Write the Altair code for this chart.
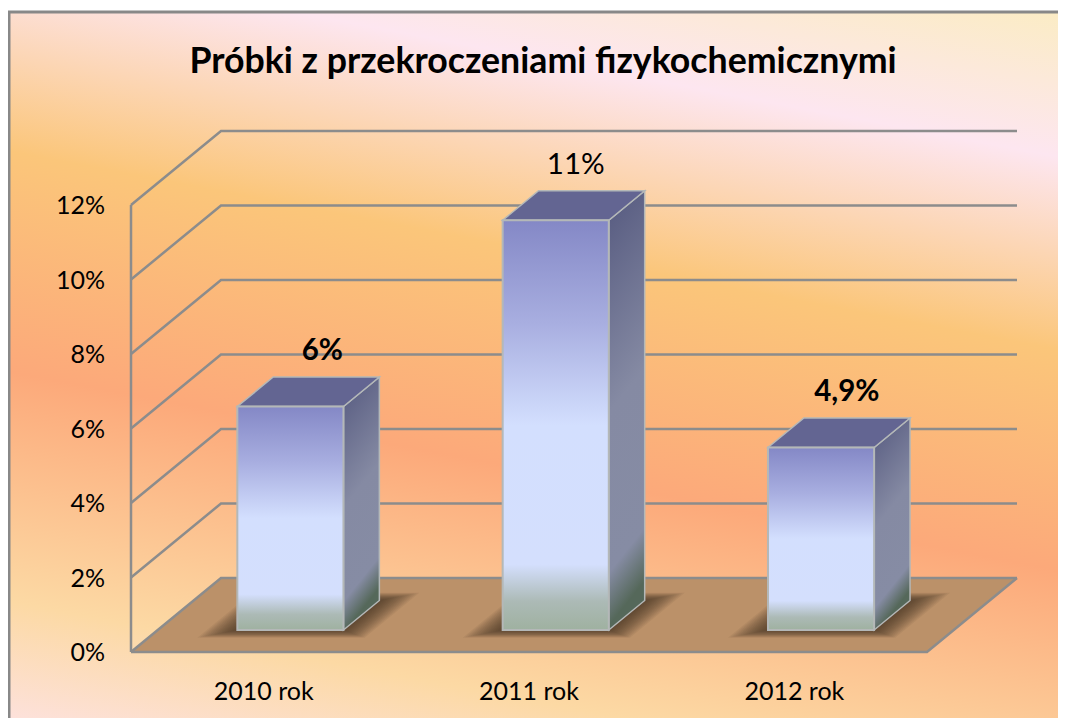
import altair as alt
import pandas as pd

title_text = "Próbki z przekroczeniami fizykochemicznymi"
categories = ["2010 rok", "2011 rok", "2012 rok"]
values = [6.0, 11.0, 4.9]
value_labels = ["6%", "11%", "4,9%"]
ticks = [0, 2, 4, 6, 8, 10, 12]
tick_labels = ["0%", "2%", "4%", "6%", "8%", "10%", "12%"]

# Chart geometry: x unit = one category cell, y unit = one percent
W, H = 1050, 710
PX_CELL, PX_PCT = 265.33, 37.25
X0, Y0 = 123, 644            # chart pixel position of the plot origin
DX, DY = 90 / PX_CELL, 74 / PX_PCT   # shift of the depth axis
BAR_L, BAR_R = 0.3, 0.7
BAR_D0, BAR_D1 = 0.297, 0.696
LABEL_SHIFT = [0.015, 0.06, 0.038]
LABEL_LIFT = 0.69
SIDE_TILT_PX = 45

x_scale = alt.Scale(domain=[(0 - X0) / PX_CELL, (W - X0) / PX_CELL], range=[0, W], nice=False, zero=False)
y_scale = alt.Scale(domain=[(Y0 - H) / PX_PCT, Y0 / PX_PCT], range=[H, 0], nice=False, zero=False)


def X(f="x"):
    return alt.X(f, type="quantitative", scale=x_scale, axis=None)


def Y(f="y"):
    return alt.Y(f, type="quantitative", scale=y_scale, axis=None)


Y2 = alt.Y2("y2")
X2 = alt.X2("x2")


def footprint(u0, u1, d0, d1, v, group):
    """Horizontal parallelogram in the projected scene, as area rows."""
    pts = [
        (u0 + d0 * DX, v + d0 * DY, v + d0 * DY),
        (u0 + d1 * DX, v + d0 * DY, v + d1 * DY),
        (u1 + d0 * DX, v + d0 * DY, v + d1 * DY),
        (u1 + d1 * DX, v + d1 * DY, v + d1 * DY),
    ]
    return [{"x": a, "y": b, "y2": c, "g": group} for a, b, c in pts]


def grad(stops, x1, y1, x2, y2):
    return alt.Gradient(
        gradient="linear",
        stops=[alt.GradientStop(color=c, offset=o) for o, c in stops],
        x1=x1, y1=y1, x2=x2, y2=y2,
    )


# background and frame
bg_fill = grad(
    [(0, "#fbecc4"), (0.16, "#fde6f0"), (0.37, "#fbc67a"), (0.61, "#fca97a"), (0.86, "#fcd9a4"), (1, "#fde2e0")],
    1, 0, 0.668, 1.187,
)
background = alt.Chart(pd.DataFrame({"a": [0]})).mark_rect(
    fill=bg_fill, stroke="#888888", strokeWidth=3, clip=True
).encode(x=alt.value(1), x2=alt.value(W + 12), y=alt.value(4), y2=alt.value(H + 12))

# floor
floor = alt.Chart(pd.DataFrame(footprint(0, 3, 0, 1, 0, "floor"))).mark_area(fill="#bb9169").encode(
    x=X(), y=Y(), y2=Y2
)

# grid: left wall, side wall diagonals, back wall lines, floor edges
grid_rows = []
for t in ticks:
    grid_rows += [
        {"x": 0, "y": t, "g": f"g{t}", "o": 0},
        {"x": DX, "y": t + DY, "g": f"g{t}", "o": 1},
        {"x": 3 + DX, "y": t + DY, "g": f"g{t}", "o": 2},
    ]
grid_rows += [{"x": 0, "y": 0, "g": "wall", "o": 0}, {"x": 0, "y": ticks[-1], "g": "wall", "o": 1}]
grid_rows += [
    {"x": 0, "y": 0, "g": "front", "o": 0},
    {"x": 3, "y": 0, "g": "front", "o": 1},
    {"x": 3 + DX, "y": DY, "g": "front", "o": 2},
]
grid = alt.Chart(pd.DataFrame(grid_rows)).mark_line(color="#8c8c8c", strokeWidth=2.5).encode(
    x=X(), y=Y(), detail="g:N", order="o:Q"
)

# shadows
N_SHADOW = 16
shadow_rows = []
for i in range(len(categories)):
    for k in range(N_SHADOW):
        m = 1 - k / N_SHADOW
        shadow_rows += footprint(
            i + BAR_L - 0.115 * m, i + BAR_R + 0.115 * m,
            BAR_D0 - 0.105 * m, BAR_D1 + 0.105 * m, 0, f"s{i}-{k}",
        )
shadows = alt.Chart(pd.DataFrame(shadow_rows)).mark_area(fill="#3a2c1c", opacity=0.065).encode(
    x=X(), y=Y(), y2=Y2, detail="g:N"
)

# bars
front_rows, top_rows = [], []
EDGE = "#b4b8b8"
side_layers = []
for i, v in enumerate(values):
    front_rows.append({
        "x": i + BAR_L + BAR_D0 * DX, "x2": i + BAR_R + BAR_D0 * DX,
        "y": BAR_D0 * DY, "y2": v + BAR_D0 * DY, "cat": categories[i],
    })
    side_rows = [
        {"x": i + BAR_R + d * DX, "y": d * DY, "y2": v + d * DY}
        for d in (BAR_D0, BAR_D1)
    ]
    tilt = SIDE_TILT_PX / ((v + (BAR_D1 - BAR_D0) * DY) * PX_PCT)
    side_fill = grad(
        [(0, "#55597f"), (0.5, "#858aa3"), (0.86, "#868ca4"), (0.98, "#55685a")], 0, 0, tilt, 1
    )
    side_layers.append(
        alt.Chart(pd.DataFrame(side_rows)).mark_area(fill=side_fill, stroke=EDGE, strokeWidth=1.5).encode(
            x=X(), y=Y(), y2=Y2
        )
    )
    top_rows += footprint(i + BAR_L, i + BAR_R, BAR_D0, BAR_D1, v, categories[i])

sides = alt.layer(*side_layers)
tops = alt.Chart(pd.DataFrame(top_rows)).mark_area(fill="#636592", stroke=EDGE, strokeWidth=1.5).encode(
    x=X(), y=Y(), y2=Y2, detail="g:N"
)
front_fill = grad(
    [(0, "#8488c6"), (0.25, "#a8aee0"), (0.5, "#d3dffe"), (0.84, "#d4dffd"), (0.93, "#acbab6"), (1, "#9fb1a0")],
    0, 0, 0, 1,
)
fronts = alt.Chart(pd.DataFrame(front_rows)).mark_rect(fill=front_fill, stroke=EDGE, strokeWidth=2).encode(
    x=X(), x2=X2, y=Y(), y2=Y2
)

FONT = "Lato"
# text
value_df = pd.DataFrame({
    "x": [i + 0.5 + BAR_D1 * DX - LABEL_SHIFT[i] for i in range(3)],
    "y": [v + BAR_D1 * DY + LABEL_LIFT for v in values],
    "t": value_labels,
    "w": ["bold", "normal", "bold"],
})
value_text = alt.layer(*[
    alt.Chart(value_df[value_df.w == w]).mark_text(font=FONT, fontSize=29.5, fontWeight=w, color="#000000").encode(
        x=X(), y=Y(), text="t:N"
    )
    for w in ("bold", "normal")
])
tick_df = pd.DataFrame({"x": [-0.098] * len(ticks), "y": ticks, "t": tick_labels})
tick_text = alt.Chart(tick_df).mark_text(font=FONT, fontSize=25, align="right", color="#000000", dy=1).encode(
    x=X(), y=Y(), text="t:N"
)
cat_df = pd.DataFrame({"x": [i + 0.5 for i in range(3)], "y": [-1.08] * 3, "t": categories})
cat_text = alt.Chart(cat_df).mark_text(font=FONT, fontSize=25, color="#000000").encode(
    x=X(), y=Y(), text="t:N"
)
title_df = pd.DataFrame({"x": [1.553], "y": [15.84], "t": [title_text]})
title = alt.Chart(title_df).mark_text(font=FONT, fontSize=35.7, fontWeight="bold", color="#000000").encode(
    x=X(), y=Y(), text="t:N"
)

chart = alt.layer(
    background, floor, grid, shadows, sides, tops, fronts, value_text, tick_text, cat_text, title
).properties(width=W, height=H, padding=0, autosize=alt.AutoSizeParams(type="none")).configure_view(stroke=None)

chart.save("out.html", embed_options={"renderer": "svg", "actions": False})
